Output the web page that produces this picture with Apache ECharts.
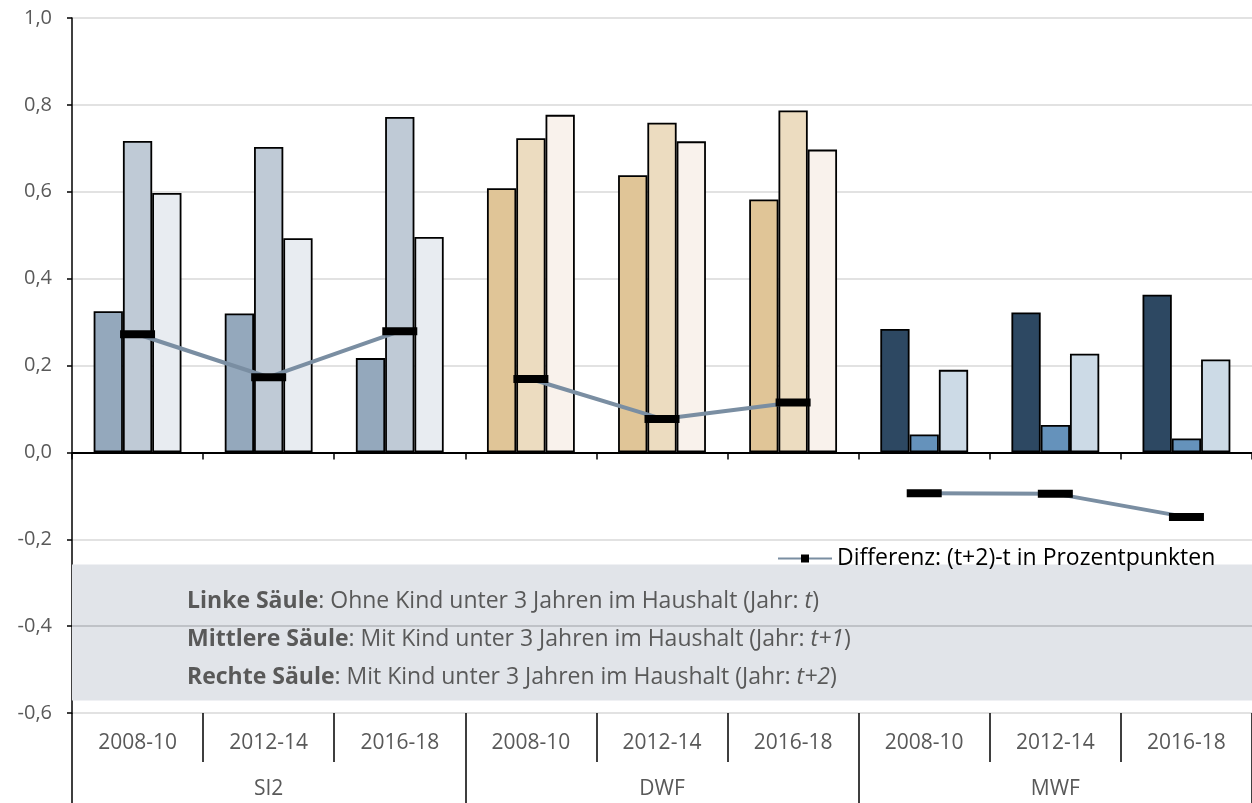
<!DOCTYPE html>
<html>
<head>
<meta charset="utf-8">
<script src="https://cdn.jsdelivr.net/npm/echarts@6/dist/echarts.min.js"></script>
<style>
  html, body { margin: 0; padding: 0; background: #fff; }
  #main { width: 1252px; height: 803px; }
</style>
</head>
<body>
<div id="main"></div>
<script>
var categories = ['2008-10', '2012-14', '2016-18', '2008-10', '2012-14', '2016-18', '2008-10', '2012-14', '2016-18'];
var groups = ['SI2', 'DWF', 'MWF'];

// Linke / Mittlere / Rechte Säule
var leftBar = [0.325, 0.320, 0.217, 0.608, 0.638, 0.582, 0.284, 0.322, 0.363];
var midBar = [0.717, 0.703, 0.772, 0.723, 0.759, 0.787, 0.041, 0.063, 0.032];
var rightBar = [0.597, 0.493, 0.496, 0.777, 0.716, 0.697, 0.190, 0.227, 0.214];
// Differenz (t+2)-t
var diff = [0.272, 0.173, 0.279, 0.169, 0.077, 0.115, -0.094, -0.095, -0.149];

var leftColors = ['#94a8bc', '#e0c597', '#2d4862'];
var midColors = ['#bfcad6', '#ecdcc0', '#6592bb'];
var rightColors = ['#e8ecf1', '#f9f2ec', '#ccdae6'];

var FONT = 'Open Sans';
var diffName = 'Differenz: (t+2)-t in Prozentpunkten';

function barData(vals, colors) {
  return vals.map(function(v, i) {
    return { value: v, itemStyle: { color: colors[Math.floor(i / 3)] } };
  });
}

// Linie nur innerhalb einer Gruppe verbinden
function groupLine(g) {
  return diff.map(function(v, i) {
    return Math.floor(i / 3) === g ? v : null;
  });
}

var myChart = echarts.init(document.getElementById('main'));

var barStyle = { borderColor: '#000', borderWidth: 1.8 };

var series = [
  {
    name: 'links', type: 'bar', xAxisIndex: 0, barGap: '0%', barCategoryGap: '33%', itemStyle: barStyle,
    data: barData(leftBar, leftColors),
    // Gitterlinie -0,4 liegt über dem Kasten
    markLine: {
      silent: true,
      symbol: 'none',
      label: { show: false },
      lineStyle: { color: '#bfc2c7', width: 2, type: 'solid' },
      data: [{ yAxis: -0.4 }]
    }
  },
  { name: 'mitte', type: 'bar', xAxisIndex: 0, barGap: '0%', barCategoryGap: '33%', itemStyle: barStyle, data: barData(midBar, midColors) },
  { name: 'rechts', type: 'bar', xAxisIndex: 0, barGap: '0%', barCategoryGap: '33%', itemStyle: barStyle, data: barData(rightBar, rightColors) },
  // grauer Kasten mit der Erläuterung
  {
    name: 'box', type: 'line', xAxisIndex: 0, z: -1, data: [],
    markArea: {
      silent: true,
      itemStyle: { color: '#e1e4e9' },
      data: [[{ yAxis: -0.258 }, { yAxis: -0.571 }]]
    }
  }
];
for (var g = 0; g < 3; g++) {
  series.push({
    name: diffName,
    type: 'line',
    xAxisIndex: 0,
    z: 5,
    data: groupLine(g),
    symbol: 'rect',
    symbolSize: [35, 8],
    itemStyle: { color: '#000' },
    lineStyle: { color: '#7a8ea2', width: 4 }
  });
}

var option = {
  animation: false,
  grid: { left: 72, right: 0, top: 18, bottom: 90 },
  title: {
    left: 187,
    top: 582,
    padding: 0,
    text: '{b|Linke Säule}: Ohne Kind unter 3 Jahren im Haushalt (Jahr: {i|t})\n' +
          '{b|Mittlere Säule}: Mit Kind unter 3 Jahren im Haushalt (Jahr: {i|t+1})\n' +
          '{b|Rechte Säule}: Mit Kind unter 3 Jahren im Haushalt (Jahr: {i|t+2})',
    textStyle: {
      fontFamily: FONT, fontSize: 23, fontWeight: 'normal', color: '#595959', lineHeight: 38,
      rich: {
        b: { fontFamily: FONT, fontSize: 23, fontWeight: 'bold', color: '#595959', lineHeight: 38 },
        i: { fontFamily: FONT, fontSize: 23, fontStyle: 'italic', color: '#595959', lineHeight: 38 }
      }
    }
  },
  legend: {
    left: 772,
    top: 542,
    data: [diffName],
    itemWidth: 54,
    itemHeight: 10,
    itemGap: 6,
    textStyle: { fontFamily: FONT, fontSize: 23, color: '#000' }
  },
  xAxis: [
    {
      type: 'category',
      data: categories,
      position: 'bottom',
      axisLine: { onZero: true, lineStyle: { color: '#000', width: 2 } },
      axisTick: { show: true, length: 7, interval: 0, lineStyle: { color: '#000', width: 1.5 } },
      axisLabel: { show: false }
    },
    {
      type: 'category',
      data: categories,
      position: 'bottom',
      axisLine: { show: false, onZero: false },
      axisTick: { show: true, length: 49, interval: 0, lineStyle: { color: '#000', width: 1.5 } },
      axisLabel: { interval: 0, margin: 20, fontFamily: FONT, fontSize: 21, color: '#595959' }
    },
    {
      type: 'category',
      data: groups,
      position: 'bottom',
      axisLine: { show: false, onZero: false },
      axisTick: { show: true, length: 90, interval: 0, lineStyle: { color: '#000', width: 1.5 } },
      axisLabel: { interval: 0, margin: 66, fontFamily: FONT, fontSize: 21, color: '#595959' }
    }
  ],
  yAxis: {
    type: 'value',
    min: -0.6,
    max: 1.0,
    interval: 0.2,
    axisLine: { show: true, lineStyle: { color: '#000', width: 1.5 } },
    axisTick: { show: true, length: 5, lineStyle: { color: '#000', width: 1.5 } },
    axisLabel: {
      margin: 20, fontFamily: FONT, fontSize: 20, color: '#595959',
      formatter: function(v) { return v.toFixed(1).replace('.', ','); }
    },
    splitLine: { lineStyle: { color: '#d9d9d9', width: 1.5 } }
  },
  series: series
};

myChart.setOption(option);
</script>
</body>
</html>
